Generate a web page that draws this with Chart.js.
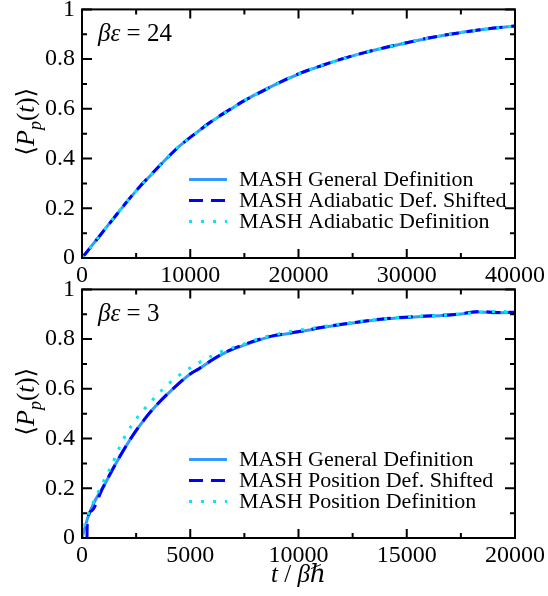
<!DOCTYPE html>
<html>
<head>
<meta charset="utf-8">
<script src="https://cdn.jsdelivr.net/npm/chart.js@4.4.0/dist/chart.umd.min.js"></script>
<style>
  body { margin: 0; background: #fff; }
  #wrap { position: relative; width: 548px; height: 596px; overflow: hidden; background: #fff; }
  canvas { position: absolute; left: 0; }
  #topChart { top: -12px; }
  #botChart { top: 268px; }
</style>
</head>
<body>
<div id="wrap">
  <canvas id="topChart" width="548" height="297"></canvas>
  <canvas id="botChart" width="548" height="328"></canvas>
</div>
<script>
// Panel a: beta*eps = 24
const tTop = [0, 1000, 2000, 3200, 5000, 6500, 7700, 9000, 10750, 12000, 13600, 15000, 16500, 18000, 20000,
  22000, 24000, 26000, 28000, 30000, 32000, 34000, 36000, 38000, 40000];
const generalTop = [0, 0.055, 0.11, 0.175, 0.27, 0.34, 0.395, 0.45, 0.51, 0.55, 0.595, 0.633, 0.668, 0.7, 0.74,
  0.772, 0.8, 0.825, 0.846, 0.866, 0.884, 0.9, 0.913, 0.924, 0.933];
const adiaShiftTop = [0, 0.054, 0.109, 0.175, 0.271, 0.341, 0.395, 0.45, 0.51, 0.551, 0.596, 0.633, 0.667, 0.701, 0.741,
  0.772, 0.801, 0.825, 0.847, 0.866, 0.885, 0.9, 0.913, 0.925, 0.933];
const adiaTop = [0, 0.055, 0.11, 0.176, 0.27, 0.34, 0.396, 0.451, 0.509, 0.55, 0.595, 0.634, 0.668, 0.7, 0.74,
  0.773, 0.8, 0.826, 0.846, 0.867, 0.884, 0.9, 0.914, 0.924, 0.934];

// Panel b: beta*eps = 3
const tBot = [0, 300, 600, 950, 1500, 2250, 3000, 3500, 4200, 5000, 5400, 6000, 6600, 7300, 8300, 8800, 9500,
  10500, 11100, 12500, 14100, 15500, 17200, 18400, 19200, 20000];
const generalBot = [0, 0.09, 0.15, 0.2, 0.29, 0.4, 0.49, 0.54, 0.6, 0.66, 0.68, 0.715, 0.745, 0.77, 0.8, 0.812, 0.822,
  0.837, 0.847, 0.865, 0.882, 0.89, 0.898, 0.909, 0.906, 0.907];
const tBotShift = [230, 245, 450, 950, 1500, 2250, 3000, 3500, 4200, 5000, 5400, 6000, 6600, 7300, 8300, 8800, 9500,
  10500, 11100, 12500, 14100, 15500, 17200, 18400, 19200, 20000];
const posShiftBot = [0, 0.065, 0.11, 0.2, 0.29, 0.4, 0.49, 0.54, 0.6, 0.66, 0.681, 0.716, 0.746, 0.772, 0.802, 0.813, 0.823,
  0.838, 0.848, 0.866, 0.883, 0.891, 0.899, 0.911, 0.907, 0.908];
const tBotPos = [0, 150, 400, 830, 1300, 1930, 2600, 3100, 3750, 4500, 5300, 6300, 7300, 8300, 9300, 10500, 12000,
  13500, 15000, 16500, 18000, 19000, 20000];
const posBot = [0, 0.06, 0.12, 0.2, 0.28, 0.4, 0.49, 0.54, 0.6, 0.655, 0.7, 0.745, 0.775, 0.805, 0.825, 0.842, 0.862,
  0.878, 0.89, 0.895, 0.905, 0.911, 0.91];

// ticks
const xTicksTop = [0, 10000, 20000, 30000, 40000];
const xTicksBot = [0, 5000, 10000, 15000, 20000];
const yTicks = [0, 0.2, 0.4, 0.6, 0.8, 1];
const yTickLabels = ['0', '0.2', '0.4', '0.6', '0.8', '1'];

const labelsTop = ['MASH General Definition', 'MASH Adiabatic Def. Shifted', 'MASH Adiabatic Definition'];
const labelsBot = ['MASH General Definition', 'MASH Position Def. Shifted', 'MASH Position Definition'];

const SERIF = '"Liberation Serif", "DejaVu Serif", serif';

function pts(xs, ys) {
  return xs.map((x, i) => ({ x: x, y: ys[i] }));
}

// draw a row of text pieces with different fonts
function drawRuns(ctx, runs, x, y) {
  let cx = x;
  for (const r of runs) {
    ctx.font = r[1];
    ctx.fillText(r[0], cx, y + (r[2] || 0));
    cx += ctx.measureText(r[0]).width;
  }
}
function runsWidth(ctx, runs) {
  let w = 0;
  for (const r of runs) { ctx.font = r[1]; w += ctx.measureText(r[0]).width; }
  return w;
}

const panelDeco = {
  id: 'panelDeco',
  afterDraw(chart, args, o) {
    const ctx = chart.ctx, a = chart.chartArea;
    const xs = chart.scales.x, ys = chart.scales.y;
    ctx.save();
    // frame + inward ticks
    ctx.strokeStyle = '#000';
    ctx.lineWidth = 2;
    ctx.beginPath();
    const nx = Math.round((xs.max - xs.min) / o.xMinor);
    for (let i = 0; i <= nx; i++) {
      const px = xs.getPixelForValue(xs.min + i * o.xMinor);
      const len = i % 2 === 0 ? 9 : 5;
      ctx.moveTo(px, a.bottom); ctx.lineTo(px, a.bottom - len);
      ctx.moveTo(px, a.top); ctx.lineTo(px, a.top + len);
    }
    for (let i = 0; i <= 10; i++) {
      const py = ys.getPixelForValue(i * 0.1);
      const len = i % 2 === 0 ? 10 : 5;
      ctx.moveTo(a.left, py); ctx.lineTo(a.left + len, py);
      ctx.moveTo(a.right, py); ctx.lineTo(a.right - len, py);
    }
    ctx.stroke();
    ctx.strokeRect(a.left, a.top, a.right - a.left, a.bottom - a.top);

    ctx.fillStyle = '#000';
    ctx.textAlign = 'left';

    // legend
    chart.data.datasets.forEach((ds, i) => {
      const y = a.top + 170 + i * 21;
      ctx.save();
      ctx.strokeStyle = ds.borderColor;
      ctx.lineWidth = ds.borderWidth;
      ctx.setLineDash(ds.borderDash || []);
      ctx.beginPath();
      ctx.moveTo(189, y); ctx.lineTo(227, y);
      ctx.stroke();
      ctx.restore();
      ctx.font = '22px ' + SERIF;
      ctx.textBaseline = 'middle';
      ctx.fillText(ds.label, 239, y + 1);
    });

    ctx.textBaseline = 'alphabetic';
    // parameter label
    drawRuns(ctx, [['βε', 'italic 25px ' + SERIF], [' = ' + o.note, '25px ' + SERIF]], a.left + 16, a.top + 32);

    // y axis title <P_p(t)>
    const yRuns = [['⟨', '25px ' + SERIF], ['P', 'italic 26px ' + SERIF], ['p', 'italic 18px ' + SERIF, 7],
      ['(', '25px ' + SERIF], ['t', 'italic 25px ' + SERIF], [')', '25px ' + SERIF], ['⟩', '25px ' + SERIF]];
    ctx.save();
    ctx.translate(34, (a.top + a.bottom) / 2 - 12);
    ctx.rotate(-Math.PI / 2);
    drawRuns(ctx, yRuns, -runsWidth(ctx, yRuns) / 2, 0);
    ctx.restore();

    // x axis title
    if (o.xTitle) {
      const xRuns = [['t', 'italic 25px ' + SERIF], [' / ', '25px ' + SERIF], ['βℏ', 'italic 25px ' + SERIF]];
      drawRuns(ctx, xRuns, (a.left + a.right) / 2 - runsWidth(ctx, xRuns) / 2, a.bottom + 44);
    }
    ctx.restore();
  }
};

function makeChart(id, sets, labels, xMax, xTicks, xMinor, note, xTitle, xh) {
  const styles = [
    { color: '#3399ff', dash: [], order: 3 },
    { color: '#0000ff', dash: [14, 8], order: 2 },
    { color: '#00eaf2', dash: [3, 9], order: 1 }
  ];
  return new Chart(document.getElementById(id).getContext('2d'), {
    type: 'line',
    data: {
      datasets: sets.map((s, i) => ({
        label: labels[i],
        data: pts(s[0], s[1]),
        borderColor: styles[i].color,
        borderDash: styles[i].dash,
        borderWidth: 3,
        pointRadius: 0,
        fill: false,
        cubicInterpolationMode: 'monotone',
        order: styles[i].order
      }))
    },
    options: {
      responsive: false,
      animation: false,
      devicePixelRatio: 1,
      layout: { padding: { top: 20, right: 30, left: 0, bottom: 0 } },
      plugins: {
        legend: { display: false },
        tooltip: { enabled: false },
        panelDeco: { xMinor: xMinor, note: note, xTitle: xTitle }
      },
      scales: {
        x: {
          type: 'linear',
          min: 0,
          max: xMax,
          grid: { display: false, drawTicks: false },
          border: { display: false },
          afterBuildTicks: s => { s.ticks = xTicks.map(v => ({ value: v })); },
          afterFit: s => { s.height = xh; },
          ticks: {
            color: '#000',
            padding: 3,
            maxRotation: 0,
            autoSkip: false,
            font: { family: SERIF, size: 24 },
            callback: v => String(v)
          }
        },
        y: {
          min: 0,
          max: 1,
          grid: { display: false, drawTicks: false },
          border: { display: false },
          afterBuildTicks: s => { s.ticks = yTicks.map(v => ({ value: v })); },
          afterFit: s => { s.width = 82; },
          ticks: {
            color: '#000',
            padding: 7,
            font: { family: SERIF, size: 24 },
            callback: (v, i) => yTickLabels[i]
          }
        }
      }
    },
    plugins: [panelDeco]
  });
}

makeChart('topChart',
  [[tTop, generalTop], [tTop, adiaShiftTop], [tTop, adiaTop]],
  labelsTop, 40000, xTicksTop, 5000, '24', false, 27);

makeChart('botChart',
  [[tBot, generalBot], [tBotShift, posShiftBot], [tBotPos, posBot]],
  labelsBot, 20000, xTicksBot, 2500, '3', true, 58);
</script>
</body>
</html>
